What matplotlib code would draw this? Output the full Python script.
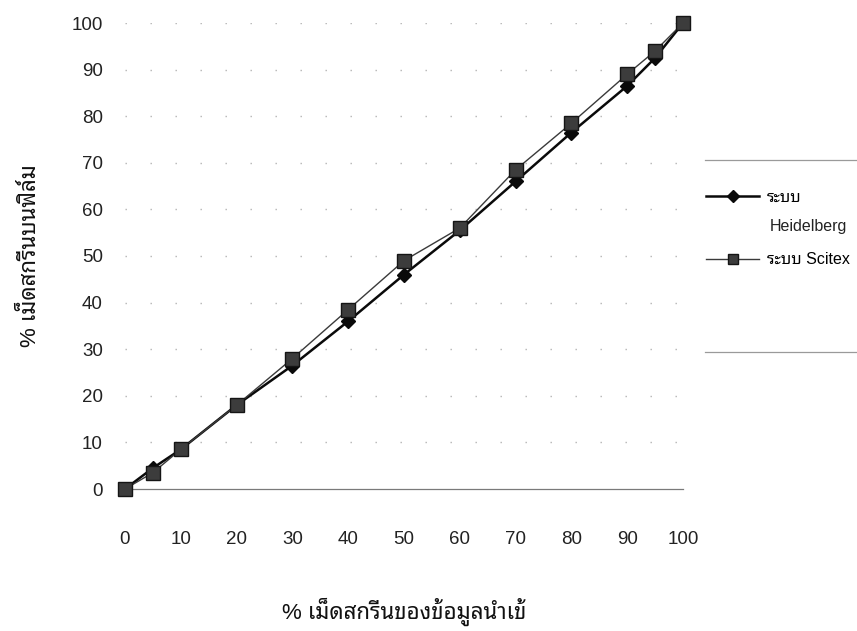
import matplotlib
matplotlib.use("Agg")
import matplotlib.pyplot as plt
from matplotlib.lines import Line2D

plt.rcParams['font.family'] = ['Liberation Sans', 'Noto Sans Thai Looped', 'DejaVu Sans']

# input screen percentage (x) and measured screen percentage on film (y)
input_pct = [0, 5, 10, 20, 30, 40, 50, 60, 70, 80, 90, 95, 100]
heidelberg = [0, 4.5, 8.5, 18, 26.5, 36, 46, 55.5, 66, 76.5, 86.5, 92.5, 100]
scitex = [0, 3.5, 8.5, 18, 28, 38.5, 49, 56, 68.5, 78.5, 89, 94, 100]

tick_values = [0, 10, 20, 30, 40, 50, 60, 70, 80, 90, 100]
label_heidelberg = "ระบบ"
label_heidelberg_2 = "Heidelberg"
label_scitex = "ระบบ Scitex"
xlabel = "% เม็ดสกรีนของข้อมูลนำเข้"
ylabel = "% เม็ดสกรีนบนฟิล์ม"

fig = plt.figure(figsize=(8.57, 6.31), dpi=100)
ax = fig.add_axes([125 / 857, 1 - 489 / 631, (683 - 125) / 857, (489 - 23) / 631])

ax.set_xlim(0, 100)
ax.set_ylim(0, 100)
ax.set_xticks(tick_values)
ax.set_yticks(tick_values)
ax.tick_params(length=0, labelsize=13.5, colors='#222222')
ax.tick_params(axis='x', pad=30)
ax.tick_params(axis='y', pad=16)
for s in ax.spines.values():
    s.set_visible(False)

# dotted horizontal gridlines and a solid baseline at zero
for v in tick_values[1:]:
    ax.axhline(v, color='#b4b4b4', lw=1.0, ls=(0, (1, 17)), zorder=0)
ax.axhline(0, color='#7a7a7a', lw=0.9, zorder=1, clip_on=False)

ax.plot(input_pct, heidelberg, color='#0a0a0a', lw=1.8, marker='D', ms=7.5,
        mfc='#0a0a0a', mec='#0a0a0a', clip_on=False, zorder=3)
ax.plot(input_pct, scitex, color='#3a3a3a', lw=1.0, marker='s', ms=10,
        mfc='#3c3c3c', mec='#151515', mew=1.0, clip_on=False, zorder=4)

ax.set_xlabel(xlabel, fontsize=16, labelpad=36, color='#111111')
ax.set_ylabel(ylabel, fontsize=16, labelpad=22, color='#111111')

# legend with separating rules above and below
handles = [
    Line2D([], [], color='#0a0a0a', lw=1.8, marker='D', ms=6.5),
    Line2D([], [], color='#3a3a3a', lw=1.0, marker='s', ms=7.5, mfc='#3c3c3c', mec='#151515'),
]
leg = fig.legend(handles, [label_heidelberg, label_scitex], loc='upper left',
                 bbox_to_anchor=(700 / 857, 1 - 183 / 631), frameon=False,
                 fontsize=11.5, labelspacing=3.0, handlelength=3.3,
                 handletextpad=0.5, borderaxespad=0)
fig.text(770 / 857, 1 - 226 / 631, label_heidelberg_2, fontsize=11.5,
         va='center', ha='left', color='#222222')
for yy in (160, 352):
    fig.add_artist(Line2D([705 / 857, 1.0], [1 - yy / 631, 1 - yy / 631],
                          transform=fig.transFigure, color='#9a9a9a', lw=0.9))

fig.savefig("out.png", dpi=100)
